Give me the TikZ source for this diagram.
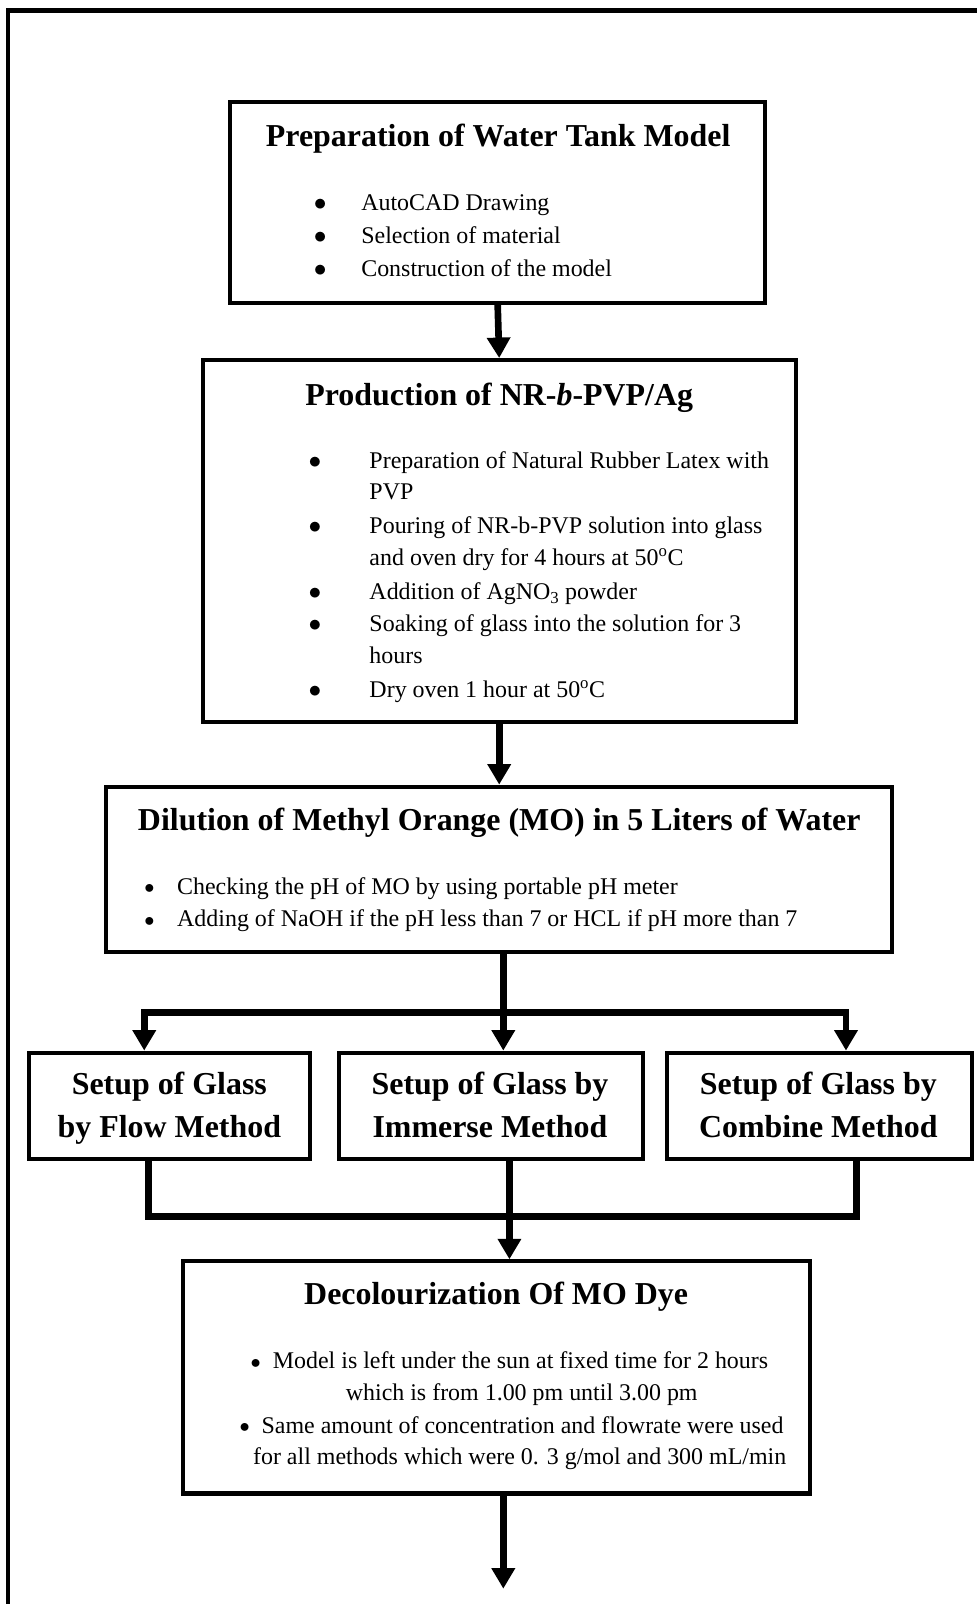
\documentclass[tikz,border=0pt]{standalone}
\usepackage{fontspec}
\setmainfont{Liberation Serif}
\usetikzlibrary{arrows.meta}
\newcommand\ttlfont{\fontsize{31.2}{42}\selectfont\bfseries}
\newcommand\bdyfont{\fontsize{23.4}{32}\selectfont}
\newcommand\bigbul{$\bullet$}
\newcommand\smbul{\raisebox{0.5pt}{\scalebox{0.8}{$\bullet$}}}
\begin{document}
\begin{tikzpicture}[x=1pt,y=-1pt,
  box/.style={draw,line width=4pt,rectangle,inner sep=0pt},
  ttl/.style={font=\ttlfont,inner sep=0pt,anchor=base},
  bul/.style={font=\bdyfont,inner sep=0pt,anchor=base},
  itm/.style={font=\bdyfont,inner sep=0pt,anchor=base west},
  ctr/.style={font=\bdyfont,inner sep=0pt,anchor=base},
  conn/.style={line width=6.5pt},
  arr/.style={line width=6.5pt,-{Triangle[width=22pt,length=20pt]}},
  arrboth/.style={line width=6.5pt,line join=miter,{Triangle[width=22pt,length=20pt]}-{Triangle[width=22pt,length=20pt]}},
  sbox/.style={box,minimum height=104pt}]
\useasboundingbox (0,0) rectangle (955,1568);
\begin{scope}
\clip (0,0) rectangle (955,1568);
\draw[line width=4.5pt] (8,10) rectangle (1000,1620);
\end{scope}

% Box 1
\node[box,minimum width=523pt,minimum height=196pt] (b1) at (486.5,198) {};
\node[ttl] (b1t) at (487,143) {Preparation of Water Tank Model};
\node[bul] (b1b1) at (313,206) {\bigbul};
\node[itm] (b1i1) at (353,206) {AutoCAD Drawing};
\node[bul] (b1b2) at (313,238) {\bigbul};
\node[itm] (b1i2) at (353,238) {Selection of material};
\node[bul] (b1b3) at (313,270) {\bigbul};
\node[itm] (b1i3) at (353,270) {Construction of the model};

% Box 2
\node[box,minimum width=580pt,minimum height=354pt] (b2) at (488,529) {};
\node[ttl] (b2t) at (488,396) {Production of NR-\textit{b}-PVP/Ag};
\node[bul] (b2b1) at (308,458) {\bigbul};
\node[itm] (b2i1) at (361,458) {Preparation of Natural Rubber Latex with};
\node[itm] (b2i1b) at (361,488) {PVP};
\node[bul] (b2b2) at (308,522) {\bigbul};
\node[itm] (b2i2) at (361,522) {Pouring of NR-b-PVP solution into glass};
\node[itm] (b2i2b) at (361,553) {and oven dry for 4 hours at 50\textsuperscript{o}C};
\node[bul] (b2b3) at (308,586) {\bigbul};
\node[itm] (b2i3) at (361,586) {Addition of AgNO\textsubscript{3} powder};
\node[bul] (b2b4) at (308,617) {\bigbul};
\node[itm] (b2i4) at (361,617) {Soaking of glass into the solution for 3};
\node[itm] (b2i4b) at (361,649) {hours};
\node[bul] (b2b5) at (308,682) {\bigbul};
\node[itm] (b2i5) at (361,682) {Dry oven 1 hour at 50\textsuperscript{o}C};

% Box 3
\node[box,minimum width=768pt,minimum height=162pt] (b3) at (488,850) {};
\node[ttl] (b3t) at (488,812) {Dilution of Methyl Orange (MO) in 5 Liters of Water};
\node[bul] (b3b1) at (146,874) {\smbul};
\node[itm] (b3i1) at (173,874) {Checking the pH of MO by using portable pH meter};
\node[bul] (b3b2) at (146,906) {\smbul};
\node[itm] (b3i2) at (173,906) {Adding of NaOH if the pH less than 7 or HCL if pH more than 7};

% Setup boxes
\node[sbox,minimum width=275pt] (sA) at (165.5,1081) {};
\node[ttl] (sAt1) at (165.5,1070) {Setup of Glass};
\node[ttl] (sAt2) at (165.5,1112) {by Flow Method};
\node[sbox,minimum width=298pt] (sB) at (480,1081) {};
\node[ttl] (sBt1) at (479,1070) {Setup of Glass by};
\node[ttl] (sBt2) at (479,1112) {Immerse Method};
\node[sbox,minimum width=298pt] (sC) at (801,1081) {};
\node[ttl] (sCt1) at (800,1070) {Setup of Glass by};
\node[ttl] (sCt2) at (800,1112) {Combine Method};

% Box D
\node[box,minimum width=613pt,minimum height=227pt] (bD) at (485.5,1346.5) {};
\node[ttl] (bDt) at (485,1275) {Decolourization Of MO Dye};
\node[ctr] (bDi1) at (498,1338) {\smbul\ \ Model is left under the sun at fixed time for 2 hours};
\node[ctr] (bDi1b) at (510,1369) {which is from 1.00 pm until 3.00 pm};
\node[ctr] (bDi2) at (500,1401) {\smbul\ \ Same amount of concentration and flowrate were used};
\node[ctr] (bDi2b) at (508,1432) {for all methods which were 0. 3 g/mol and 300 mL/min};

% connectors
\coordinate (jA) at (141,990);
\coordinate (jB) at (492,990);
\coordinate (jC) at (827,990);
\coordinate (kA) at (145,1189);
\coordinate (kB) at (498,1189);
\coordinate (kC) at (837,1189);
\coordinate (endD) at (492,1553);

\draw[arr] (b1.south) -- (b2.north);
\draw[arr] (b2.south) -- (b3.north);
\draw[arr] (b3.south -| jB) -- (sB.north -| jB);
\draw[arrboth] (sA.north -| jA) |- (jC) -- (sC.north -| jC);
\draw[conn,line join=miter] (sA.south -| kA) |- (kC) -- (sC.south -| kC);
\draw[arr] (sB.south -| kB) -- (bD.north -| kB);
\draw[arr] (bD.south -| endD) -- (endD);
\end{tikzpicture}
\end{document}
